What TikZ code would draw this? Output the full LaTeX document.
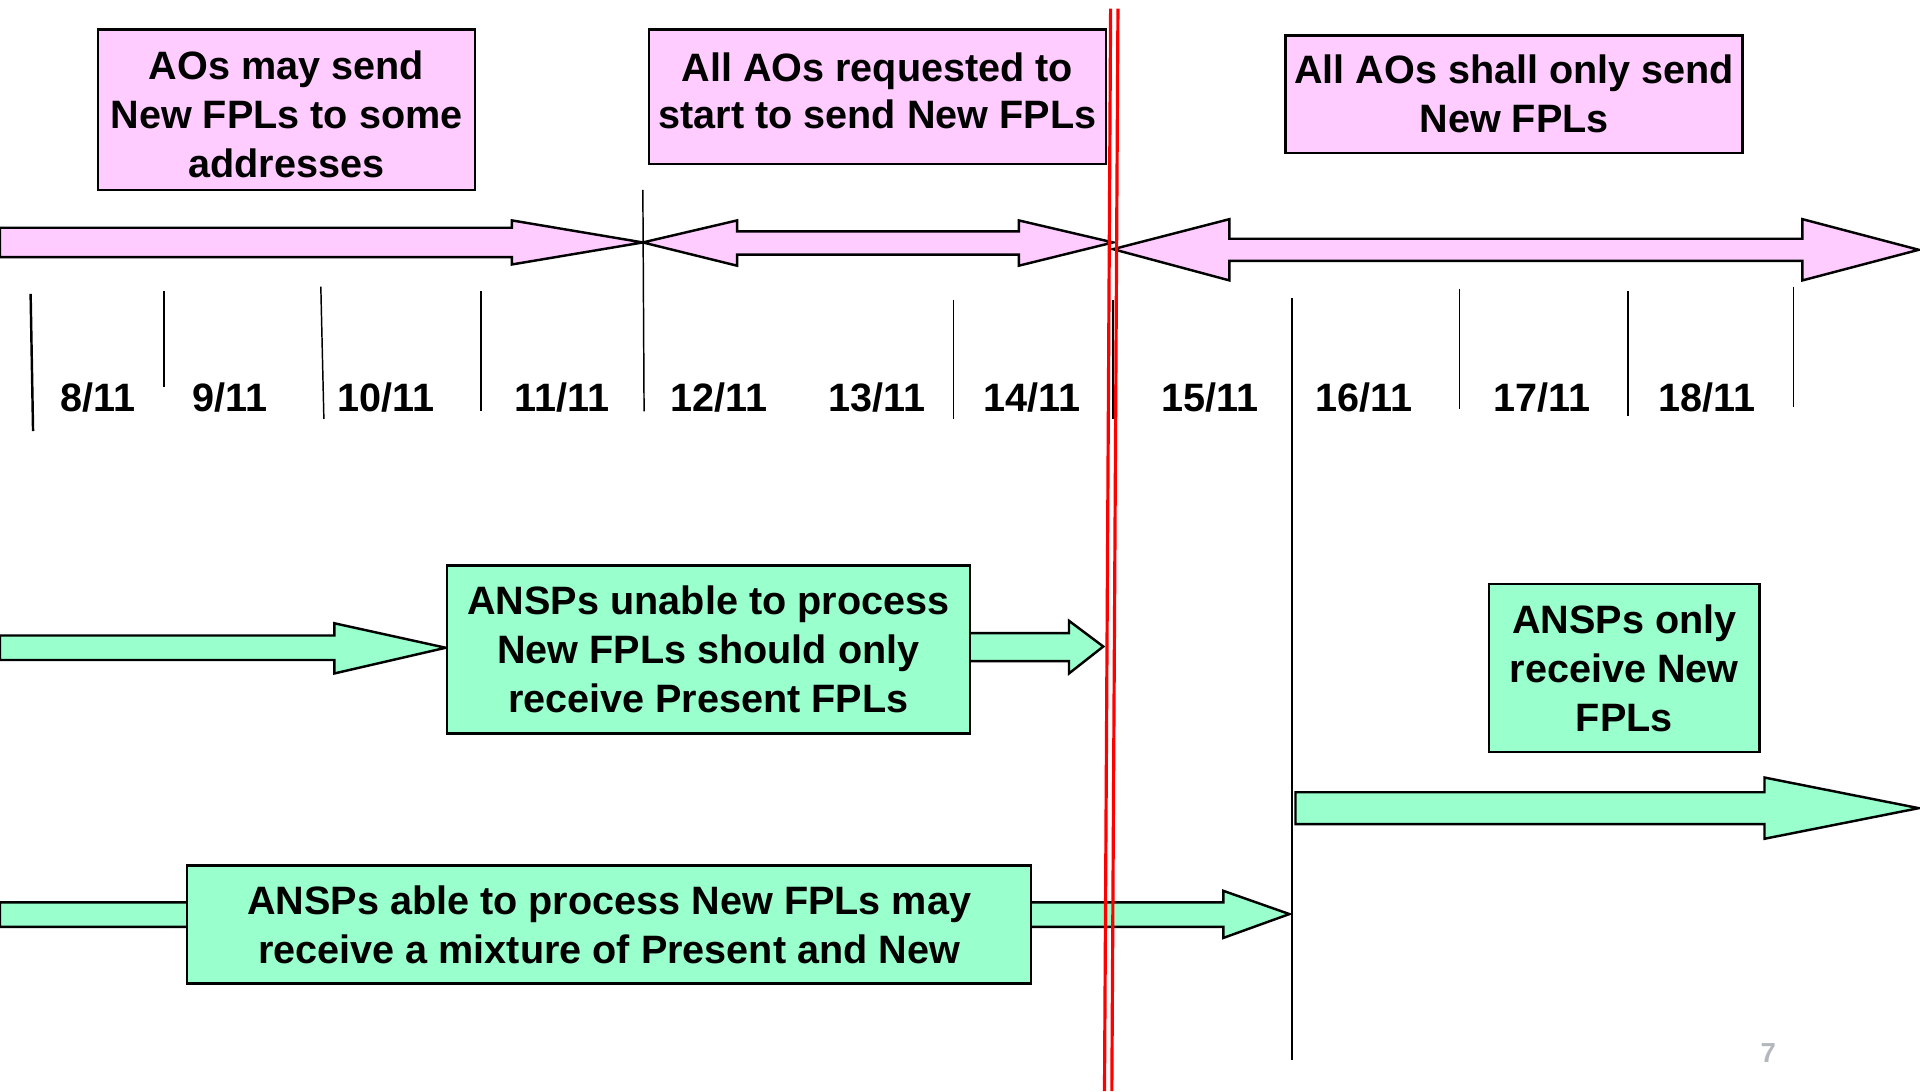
\documentclass[tikz,border=0pt]{standalone}
\usepackage{fontspec}
\setmainfont{Liberation Sans}
\usepackage{tikz}
\usetikzlibrary{positioning}
\definecolor{pinkfill}{HTML}{FFCCFF}
\definecolor{greenfill}{HTML}{99FFCC}
\definecolor{pagegray}{HTML}{B4B8BE}
\tikzset{
textbox/.style={draw=black, line width=0.05cm, inner sep=0pt, align=center, font=\fontsize{23}{28.5}\selectfont\bfseries}, % the boxes with the notes
pinkbox/.style={textbox, fill=pinkfill}, % notes about the AOs
greenbox/.style={textbox, fill=greenfill}, % notes about the ANSPs
pinkarrow/.style={draw=black, fill=pinkfill, line width=0.05cm, line join=miter}, % block arrows, top row
greenarrow/.style={draw=black, fill=greenfill, line width=0.05cm, line join=miter}, % block arrows, lower rows
daytick/.style={draw=black, line width=0.03cm}, % separators between the days
daylabel/.style={font=\fontsize{23}{28}\selectfont\bfseries}, % the dates
cutover/.style={draw=red, line width=0.065cm} % the red double line
}

\begin{document}
\begin{tikzpicture}[x=0.025cm, y=-0.025cm]
    \useasboundingbox (0,0) rectangle (1568,891);
    % top row: block arrows
    \draw [pinkarrow] (0,186) -- (418,186) -- (418,180) -- (525,198) -- (418,216) -- (418,210) -- (0,210) -- cycle;
    \draw [pinkarrow] (525,198) -- (602,180) -- (602,189) -- (832,189) -- (832,180) -- (909,198) -- (832,217) -- (832,208) -- (602,208) -- (602,217) -- cycle;
    \draw [pinkarrow] (909,203.5) -- (1004,179) -- (1004,195) -- (1472,195) -- (1472,179) -- (1567,204) -- (1472,229) -- (1472,213) -- (1004,213) -- (1004,229) -- cycle;
    % top row: notes
    \node [pinkbox, minimum width=7.7cm, minimum height=3.275cm] (aosome) at (234,89.5) {\rule{0pt}{0.775cm}AOs may send\\New FPLs to some\\addresses};
    \node [pinkbox, minimum width=9.325cm, minimum height=2.75cm] (aostart) at (716.5,79) {All AOs requested to\\[-0.05cm]start to send New FPLs\rule[-0.25cm]{0pt}{0pt}};
    \node [pinkbox, minimum width=9.325cm, minimum height=2.4cm] (aonly) at (1236.5,77) {All AOs shall only send\\New FPLs};
    % day separators
    \draw [daytick, line width=0.05cm] (25,240) -- (27,352);
    \draw [daytick] (134,238) -- (134,316);
    \draw [daytick] (262,234) -- (264.5,342);
    \draw [daytick] (393,238) -- (393,336);
    \draw [daytick] (525,155) -- (526,336);
    \draw [daytick] (778.5,245) -- (778.5,342);
    \draw [daytick] (909,245) -- (909,342);
    \draw [daytick] (1055,243) -- (1055,866);
    \draw [daytick] (1192,236) -- (1192,334);
    \draw [daytick] (1329.5,238) -- (1329.5,340);
    \draw [daytick] (1464.5,234) -- (1464.5,332);
    % dates
    \node [daylabel] (d8) at (80,325) {8/11};
    \node [daylabel] (d9) at (188,325) {9/11};
    \node [daylabel] (d10) at (315,325) {10/11};
    \node [daylabel] (d11) at (459,325) {11/11};
    \node [daylabel] (d12) at (587,325) {12/11};
    \node [daylabel] (d13) at (716,325) {13/11};
    \node [daylabel] (d14) at (843,325) {14/11};
    \node [daylabel] (d15) at (988,325) {15/11};
    \node [daylabel] (d16) at (1114,325) {16/11};
    \node [daylabel] (d17) at (1259,325) {17/11};
    \node [daylabel] (d18) at (1394,325) {18/11};
    % lower rows: block arrows
    \draw [greenarrow] (0,519) -- (273,519) -- (273,509) -- (364,529) -- (273,550) -- (273,539) -- (0,539) -- cycle;
    \draw [greenarrow] (785,517) -- (873,517) -- (873,507) -- (901,528) -- (873,550) -- (873,540) -- (785,540) -- cycle;
    \draw [greenarrow] (0,737) -- (999,737) -- (999,727.5) -- (1053,746.5) -- (999,766) -- (999,757) -- (0,757) -- cycle;
    \draw [greenarrow] (1058,647) -- (1441,647) -- (1441,635) -- (1567,660) -- (1441,685) -- (1441,673) -- (1058,673) -- cycle;
    % lower rows: notes
    \node [greenbox, minimum width=10.675cm, minimum height=3.425cm] (unable) at (578.5,530.5) {ANSPs unable to process\\New FPLs should only\\receive Present FPLs};
    \node [greenbox, minimum width=17.225cm, minimum height=2.4cm] (able) at (497.5,755) {ANSPs able to process New FPLs may\\receive a mixture of Present and New};
    \node [greenbox, minimum width=5.525cm, minimum height=3.425cm] (onlynew) at (1326.5,545.5) {ANSPs only\\receive New\\FPLs};
    % red double line
    \draw [cutover] (907,7) -- (902,891);
    \draw [cutover] (913,7) -- (908,891);
    \node [font=\fontsize{16}{19}\selectfont\bfseries, text=pagegray] (pagenum) at (1444,860) {7};
\end{tikzpicture}
\end{document}
